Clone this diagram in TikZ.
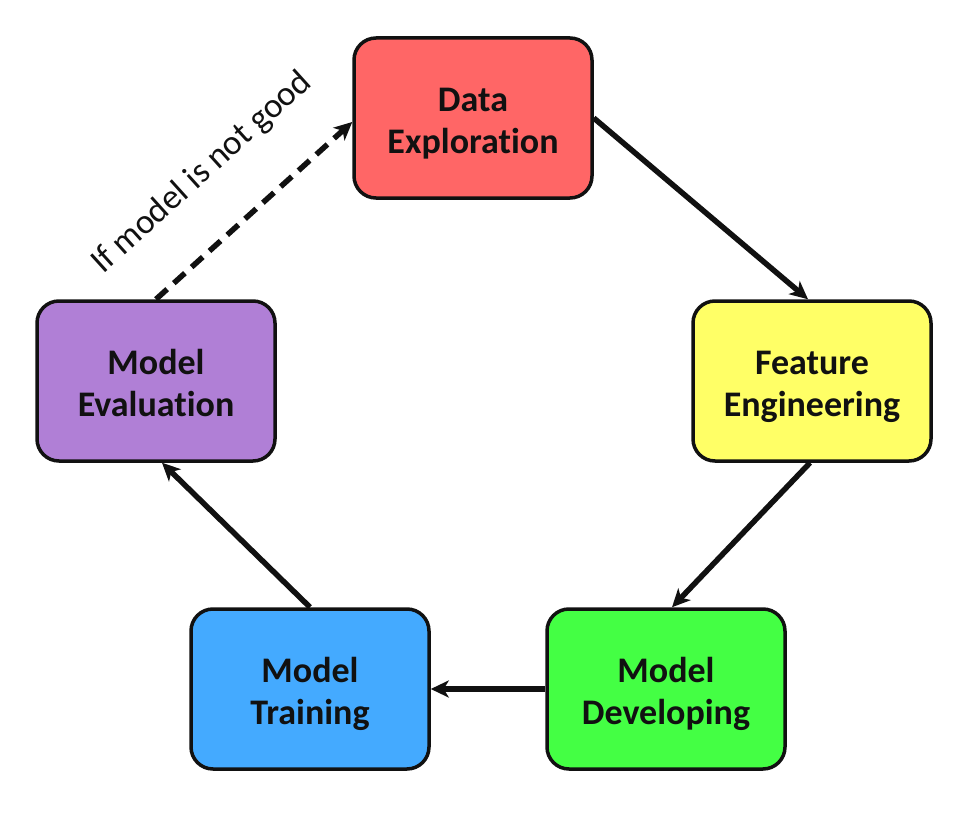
\documentclass[tikz,border=0pt]{standalone}
\usepackage{fontspec}
\setmainfont{Carlito}[Ligatures=NoCommon]
\usetikzlibrary{arrows.meta,calc}
\definecolor{cred}{HTML}{FF6666}
\definecolor{cyellow}{HTML}{FFFF66}
\definecolor{cgreen}{HTML}{44FF44}
\definecolor{cblue}{HTML}{44AAFF}
\definecolor{cpurple}{HTML}{B07FD6}
\definecolor{ink}{HTML}{111111}
\newcommand{\twolines}[2]{\raisebox{-12.6pt}[0pt][0pt]{\begin{tabular}{@{}c@{}}#1\\#2\end{tabular}}}
\tikzset{
  stagebox/.style={draw=ink, line width=3.5pt, rounded corners=22pt,
    minimum width=238pt, minimum height=160pt, inner sep=0pt,
    font=\fontsize{36}{42}\selectfont\bfseries, text=ink},
  flow/.style={draw=ink, line width=5.5pt,
    -{Stealth[length=18pt,width=17pt,inset=5pt]}},
  loopback/.style={flow, dash pattern=on 15pt off 9pt},
  looplabel/.style={font=\fontsize{35}{40}\selectfont, text=ink, inner sep=0pt}
}
\begin{document}
\begin{tikzpicture}[x=1pt,y=-1pt]
\useasboundingbox (0,0) rectangle (980,840);
\node[stagebox, fill=cred]    (DE) at (473,118) {\twolines{Data}{Exploration}};
\node[stagebox, fill=cyellow] (FE) at (812,381) {\twolines{Feature}{Engineering}};
\node[stagebox, fill=cgreen]  (MD) at (666,689) {\twolines{Model}{Developing}};
\node[stagebox, fill=cblue]   (MT) at (310,689) {\twolines{Model}{Training}};
\node[stagebox, fill=cpurple] (ME) at (156,381) {\twolines{Model}{Evaluation}};
\draw[flow] (DE.east) -- ([xshift=-4pt]FE.north);
\draw[flow] ([xshift=-2pt]FE.south) -- ([xshift=6pt]MD.north);
\draw[flow] (MD.west) -- (MT.east);
\draw[flow] (MT.north) -- ([xshift=6pt]ME.south);
\draw[loopback] (ME.north) -- ([yshift=-4pt]DE.west)
  node[looplabel, pos=0.45, sloped, above=45pt] (LBL) {If model is not good};
\end{tikzpicture}
\end{document}
